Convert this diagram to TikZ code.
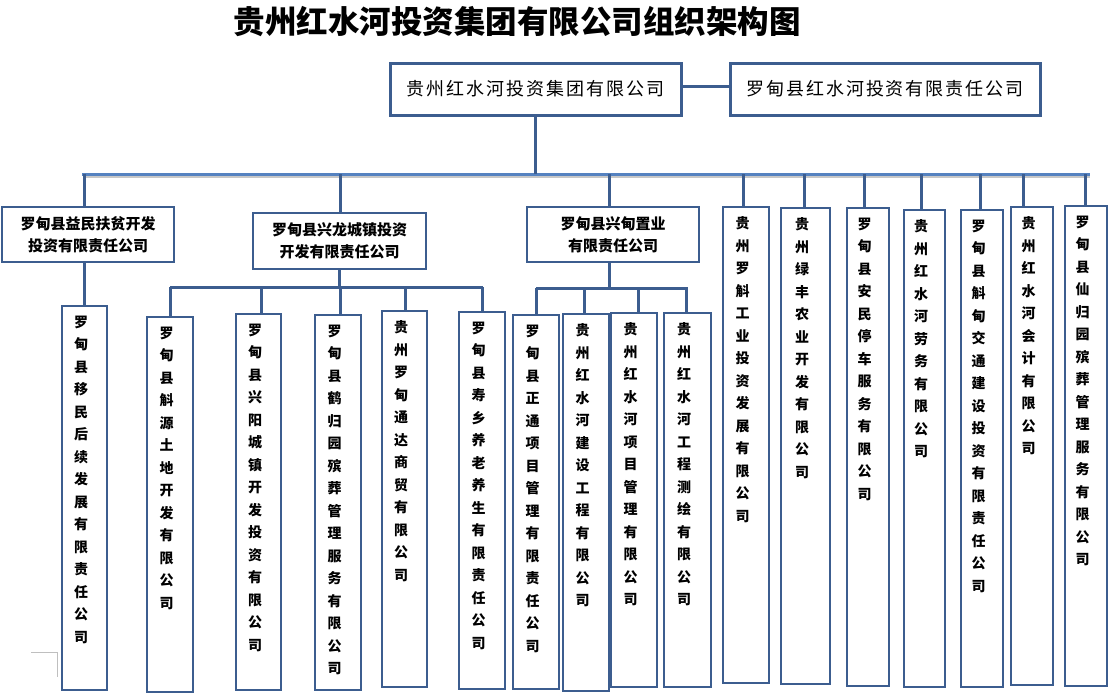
\documentclass[tikz,border=0pt]{standalone}
\usepackage{fontspec}
\setmainfont{Noto Sans CJK SC}
\usetikzlibrary{calc}
\definecolor{lc}{HTML}{3C5D8F}
\definecolor{busc}{HTML}{5582C0}
\def\vstack#1{\vstackB#1\relax}
\def\vstackB#1{#1\vstackC}
\def\vstackC#1{\ifx\relax#1\expandafter\vstackEnd\else\expandafter\vstackD\fi#1}
\def\vstackEnd#1{}
\def\vstackD#1{\\#1\vstackC}
\newcommand\vbx[6]{%
  \node[vb, minimum width={(#4-#2)*1pt}, minimum height={(#5-#3)*1pt}] (#1) at ({(#2+#4)/2},{(#3+#5)/2}) {};
  \node[vt, anchor=north] (#1t) at ($(#1.north)+(-3.5,10)$) {\vstack{#6}};
}
\tikzset{
  conn/.style={draw=lc, line width=3pt},
  tb/.style={draw=lc, line width=3pt, inner sep=0pt, font=\fontsize{18}{20}\selectfont\addfontfeature{LetterSpace=11}},
  hb/.style={draw=lc, line width=1.2pt, inner sep=0pt, align=center, font=\bfseries\fontsize{15}{22}\selectfont},
  vb/.style={draw=lc, line width=1.2pt, inner sep=0pt},
  vt/.style={inner sep=0pt, align=center, font=\bfseries\fontsize{14}{22.5}\selectfont}
}
\begin{document}
\begin{tikzpicture}[x=1pt,y=-1pt]
\useasboundingbox (0,0) rectangle (1114,696);
\fill[white] (0,0) rectangle (1114,696);
% title
\node[inner sep=0pt, font=\bfseries\fontsize{31.5}{34}\selectfont] (title) at (517,22) {贵州红水河投资集团有限公司组织架构图};
% top boxes
\node[tb, minimum width=291pt, minimum height=52pt] (T) at (535.5,89) {贵州红水河投资集团有限公司};
\node[tb, minimum width=310pt, minimum height=52pt] (R) at (885,89) {罗甸县红水河投资有限责任公司};
\draw[conn] ($(T.east)+(0,-3)$) -- ($(R.west)+(0,-3)$);
% main bus
\coordinate (busL) at (82,174);
\coordinate (busR) at (1090,174);
\draw[black!22, line width=2.5pt] ($(busL)+(2,2.5)$) -- ($(busR)+(0,2.5)$);
\draw[busc, line width=3pt] (busL) -- (busR);
\draw[conn] (T.south) -- (T.south |- busL);
% level 1 boxes
\node[hb, minimum width=172pt, minimum height=55pt] (A) at (88,234.5) {罗甸县益民扶贫开发\\投资有限责任公司};
\node[hb, minimum width=173pt, minimum height=56pt] (B) at (339.5,241) {罗甸县兴龙城镇投资\\开发有限责任公司};
\node[hb, minimum width=172pt, minimum height=55pt] (C) at (613,234.5) {罗甸县兴甸置业\\有限责任公司};
% level 2 / single boxes
\vbx{a1}{62}{306}{107}{690}{罗甸县移民后续发展有限责任公司}
\vbx{b1}{147}{317}{193}{692}{罗甸县斛源土地开发有限公司}
\vbx{b2}{236}{314}{281}{690}{罗甸县兴阳城镇开发投资有限公司}
\vbx{b3}{315}{315}{361}{690}{罗甸县鹤归园殡葬管理服务有限公司}
\vbx{b4}{382}{311}{427}{687}{贵州罗甸通达商贸有限公司}
\vbx{b5}{459}{312}{505}{689}{罗甸县寿乡养老养生有限责任公司}
\vbx{c1}{513}{315}{559}{689}{罗甸县正通项目管理有限责任公司}
\vbx{c2}{563}{314}{609}{691}{贵州红水河建设工程有限公司}
\vbx{c3}{611}{313}{657}{687}{贵州红水河项目管理有限公司}
\vbx{c4}{664}{313}{711}{687}{贵州红水河工程测绘有限公司}
\vbx{s1}{723}{207}{769}{683}{贵州罗斛工业投资发展有限公司}
\vbx{s2}{781}{208}{830}{684}{贵州绿丰农业开发有限公司}
\vbx{s3}{847}{208}{889}{686}{罗甸县安民停车服务有限公司}
\vbx{s4}{904}{210}{945}{687}{贵州红水河劳务有限公司}
\vbx{s5}{961}{210}{1003}{687}{罗甸县斛甸交通建设投资有限责任公司}
\vbx{s6}{1011}{207}{1053}{685}{贵州红水河会计有限公司}
\vbx{s7}{1065}{206}{1107}{686}{罗甸县仙归园殡葬管理服务有限公司}
% drops from main bus
\coordinate (dA) at (84,174);
\coordinate (dB) at (340,174);
\coordinate (dC) at (609,174);
\coordinate (d1) at (743,174);
\coordinate (d2) at (804,174);
\coordinate (d3) at (864,174);
\coordinate (d4) at (921,174);
\coordinate (d5) at (980,174);
\coordinate (d6) at (1023,174);
\coordinate (d7) at (1085,174);
\draw[conn] (dA) -- (dA |- A.north);
\draw[conn] (dB) -- (dB |- B.north);
\draw[conn] (dC) -- (dC |- C.north);
\draw[conn] (d1) -- (d1 |- s1.north);
\draw[conn] (d2) -- (d2 |- s2.north);
\draw[conn] (d3) -- (d3 |- s3.north);
\draw[conn] (d4) -- (d4 |- s4.north);
\draw[conn] (d5) -- (d5 |- s5.north);
\draw[conn] (d6) -- (d6 |- s6.north);
\draw[conn] (d7) -- (d7 |- s7.north);
% A -> a1
\draw[conn] (dA |- A.south) -- (dA |- a1.north);
% B sub-bus
\coordinate (sbL) at (170,287);
\coordinate (sbR) at (483,287);
\coordinate (eb1) at (170,287);
\coordinate (eb2) at (261,287);
\coordinate (eb3) at (340,287);
\coordinate (eb4) at (405,287);
\coordinate (eb5) at (482,287);
\draw[conn] (B.south) -- (B.south |- sbL);
\draw[conn] (sbL) -- (sbR);
\draw[conn] (eb1) -- (eb1 |- b1.north);
\draw[conn] (eb2) -- (eb2 |- b2.north);
\draw[conn] (eb3) -- (eb3 |- b3.north);
\draw[conn] (eb4) -- (eb4 |- b4.north);
\draw[conn] (eb5) -- (eb5 |- b5.north);
% C sub-bus
\coordinate (scL) at (536,288);
\coordinate (scR) at (688,288);
\coordinate (ec1) at (536,288);
\coordinate (ec2) at (584,288);
\coordinate (ec3) at (638,288);
\coordinate (ec4) at (686,288);
\draw[conn] (dC |- C.south) -- (dC |- scL);
\draw[conn] (scL) -- (scR);
\draw[conn] (ec1) -- (ec1 |- c1.north);
\draw[conn] (ec2) -- (ec2 |- c2.north);
\draw[conn] (ec3) -- (ec3 |- c3.north);
\draw[conn] (ec4) -- (ec4 |- c4.north);
% crop mark
\draw[black!25, line width=0.8pt] (31,652) -- (57,652) -- (57,677);
\end{tikzpicture}
\end{document}
